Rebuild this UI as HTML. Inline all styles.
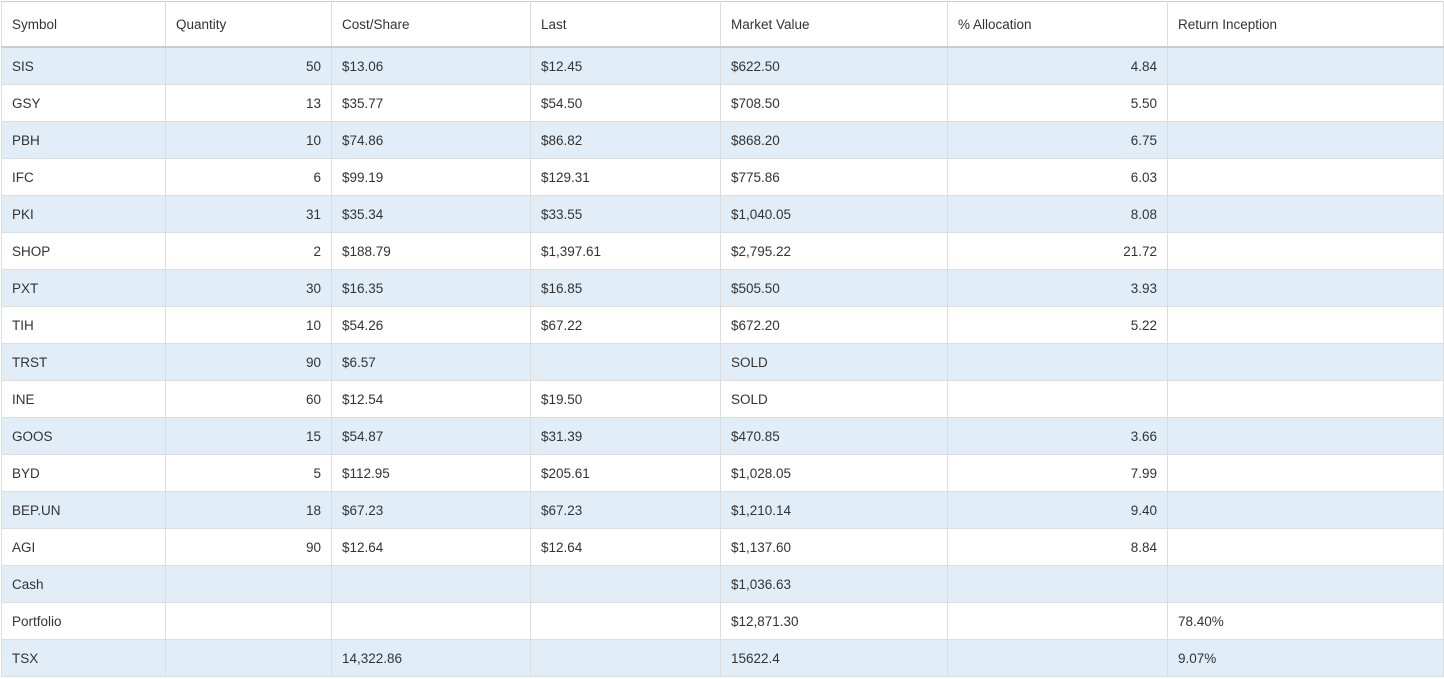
<!DOCTYPE html><html><head><style>
body{margin:0;background:#fff;width:1444px;height:679px;overflow:hidden;font-family:"Liberation Sans",sans-serif;font-size:13.5px;color:#333}
table{position:absolute;left:1px;top:1px;border-collapse:collapse;table-layout:fixed;width:1442px}
td,th{border:1px solid #ddd;padding:0 10px;height:36px;text-align:left;font-weight:normal;white-space:nowrap}
th{height:44px;border-bottom:2px solid #ccc;border-top:1px solid #ccc}
tr:nth-child(even) td{background:#e1eef8}
td.r{text-align:right}
table{border:1px solid #ccc}
</style></head><body>
<table>
<colgroup><col style="width:164px"><col style="width:166px"><col style="width:199px"><col style="width:190px"><col style="width:227px"><col style="width:220px"><col style="width:276px"></colgroup>
<tr><th>Symbol</th><th>Quantity</th><th>Cost/Share</th><th>Last</th><th>Market Value</th><th>% Allocation</th><th>Return Inception</th></tr>
<tr><td>SIS</td><td class="r">50</td><td>$13.06</td><td>$12.45</td><td>$622.50</td><td class="r">4.84</td><td></td></tr>
<tr><td>GSY</td><td class="r">13</td><td>$35.77</td><td>$54.50</td><td>$708.50</td><td class="r">5.50</td><td></td></tr>
<tr><td>PBH</td><td class="r">10</td><td>$74.86</td><td>$86.82</td><td>$868.20</td><td class="r">6.75</td><td></td></tr>
<tr><td>IFC</td><td class="r">6</td><td>$99.19</td><td>$129.31</td><td>$775.86</td><td class="r">6.03</td><td></td></tr>
<tr><td>PKI</td><td class="r">31</td><td>$35.34</td><td>$33.55</td><td>$1,040.05</td><td class="r">8.08</td><td></td></tr>
<tr><td>SHOP</td><td class="r">2</td><td>$188.79</td><td>$1,397.61</td><td>$2,795.22</td><td class="r">21.72</td><td></td></tr>
<tr><td>PXT</td><td class="r">30</td><td>$16.35</td><td>$16.85</td><td>$505.50</td><td class="r">3.93</td><td></td></tr>
<tr><td>TIH</td><td class="r">10</td><td>$54.26</td><td>$67.22</td><td>$672.20</td><td class="r">5.22</td><td></td></tr>
<tr><td>TRST</td><td class="r">90</td><td>$6.57</td><td></td><td>SOLD</td><td class="r"></td><td></td></tr>
<tr><td>INE</td><td class="r">60</td><td>$12.54</td><td>$19.50</td><td>SOLD</td><td class="r"></td><td></td></tr>
<tr><td>GOOS</td><td class="r">15</td><td>$54.87</td><td>$31.39</td><td>$470.85</td><td class="r">3.66</td><td></td></tr>
<tr><td>BYD</td><td class="r">5</td><td>$112.95</td><td>$205.61</td><td>$1,028.05</td><td class="r">7.99</td><td></td></tr>
<tr><td>BEP.UN</td><td class="r">18</td><td>$67.23</td><td>$67.23</td><td>$1,210.14</td><td class="r">9.40</td><td></td></tr>
<tr><td>AGI</td><td class="r">90</td><td>$12.64</td><td>$12.64</td><td>$1,137.60</td><td class="r">8.84</td><td></td></tr>
<tr><td>Cash</td><td></td><td></td><td></td><td>$1,036.63</td><td></td><td></td></tr>
<tr><td>Portfolio</td><td></td><td></td><td></td><td>$12,871.30</td><td></td><td>78.40%</td></tr>
<tr><td>TSX</td><td></td><td>14,322.86</td><td></td><td>15622.4</td><td></td><td>9.07%</td></tr>
</table>
</body></html>
